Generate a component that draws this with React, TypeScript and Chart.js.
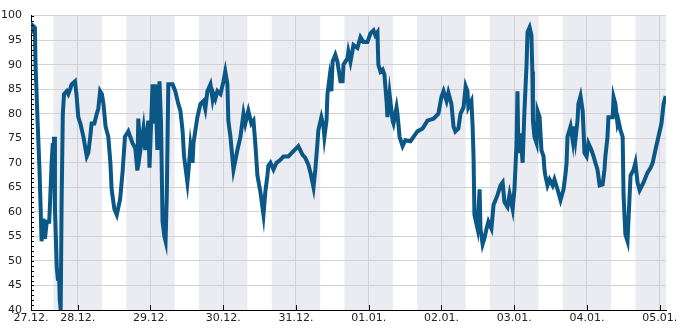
import { useEffect, useRef } from 'react';
import { Chart, registerables } from 'chart.js';

Chart.register(...registerables);

// hours since 27.12. 00:00
const HOURS = [
  8.6, 9.1, 9.9, 10.1, 10.8, 11.4, 12.1, 12.7, 13.2, 13.8, 14.6, 14.9, 15.4, 15.8, 16.1, 16.2, 16.5, 17.1, 17.5, 17.8,
  18.1, 18.4, 18.7, 19.1, 19.5, 20.4, 20.9, 21.5, 22.0, 23.1, 23.6, 24.2, 24.9, 25.9, 27.0, 27.5, 28.1, 28.6, 29.5, 30.3,
  30.8, 31.4, 32.0, 32.5, 33.2, 34.1, 34.8, 35.2, 36.1, 36.9, 38.0, 38.8, 39.6, 40.7, 42.1, 43.0, 43.7, 44.0, 44.7, 45.7,
  46.3, 47.3, 47.7, 48.7, 49.0, 49.6, 50.3, 51.0, 51.5, 52.0, 52.6, 53.0, 53.4, 53.9, 55.3, 56.2, 57.2, 57.9, 58.6, 59.1,
  60.2, 60.5, 61.2, 61.9, 62.2, 63.5, 64.5, 65.5, 66.1, 66.8, 67.8, 68.5, 68.8, 69.4, 70.1, 71.1, 72.1, 72.7, 73.4, 73.7,
  74.4, 75.1, 75.4, 76.7, 77.7, 78.7, 79.3, 80.3, 81.3, 82.0, 82.6, 83.3, 84.3, 85.3, 85.9, 86.6, 86.9, 87.6, 88.6, 89.6,
  90.9, 91.9, 93.5, 95.2, 96.8, 98.2, 99.1, 100.1, 100.8, 101.8, 102.4, 103.1, 103.4, 104.4, 105.1, 105.4, 106.1, 106.4, 107.1, 107.7,
  108.1, 109.0, 109.7, 110.7, 111.4, 111.7, 113.0, 113.3, 114.0, 115.0, 116.3, 117.3, 118.3, 119.6, 120.6, 121.6, 122.2, 122.9, 123.2, 123.9,
  124.6, 125.2, 125.9, 126.2, 126.9, 127.9, 128.2, 129.2, 129.5, 130.2, 131.2, 132.1, 133.8, 134.8, 136.1, 137.8, 139.4, 141.4, 143.0, 144.0,
  144.7, 145.7, 146.3, 147.3, 148.0, 148.6, 149.6, 150.3, 151.3, 152.0, 152.6, 152.9, 153.9, 154.3, 154.6, 154.9, 155.9, 156.6, 156.9, 157.6,
  158.2, 158.9, 159.5, 160.5, 161.2, 162.5, 163.5, 164.2, 164.8, 165.8, 166.5, 167.5, 168.1, 168.8, 169.1, 169.4, 170.1, 170.8, 171.4, 172.1,
  172.4, 173.1, 173.7, 174.0, 174.2, 174.7, 175.4, 175.7, 176.4, 177.0, 177.7, 178.0, 178.3, 179.0, 179.7, 180.7, 181.3, 182.3, 183.3, 184.3,
  185.0, 185.3, 185.6, 186.6, 187.3, 187.6, 188.2, 188.9, 189.2, 189.9, 190.6, 190.9, 191.2, 191.9, 192.5, 193.5, 194.2, 194.8, 195.5, 196.2,
  197.2, 197.8, 198.1, 198.8, 199.1, 200.5, 200.8, 201.4, 202.1, 202.4, 203.1, 203.8, 204.1, 204.7, 205.4, 205.7, 206.4, 207.4, 208.0, 208.7,
  209.4, 210.7, 212.0, 213.0, 213.7, 214.6, 215.6, 216.6, 217.3, 218.0,
];

const VALUES = [
  96.4, 98, 97.5, 90, 78, 68.6, 54, 58.6, 54.5, 58, 58, 62, 70, 74, 70, 75.3, 60.6, 48.7, 46, 48,
  42, 40, 62, 80, 84, 84.6, 84, 85, 86, 86.6, 84, 79.3, 78, 75.3, 71.3, 72, 75, 78, 78, 80,
  81, 84.6, 84, 82, 77.4, 75.3, 70, 64.6, 60.6, 59.4, 62.6, 68, 75.3, 76.4, 74, 73, 68.4, 79, 72.6, 77,
  72.6, 78.6, 69, 86, 78, 86, 72.6, 86.6, 78, 58, 55, 54, 63.4, 86, 86, 84.6, 82, 80.6, 76.6, 71.3,
  66, 68, 73.4, 70, 74, 79.3, 82, 82.6, 81, 84.6, 86, 83, 84, 83, 84.6, 84, 86.6, 88.6, 86, 78.6,
  75.3, 70.6, 68.6, 72.6, 75.3, 80, 78, 80.6, 78, 78.6, 74, 67.4, 64, 59.4, 64, 67.4, 69.4, 70, 68.6, 70,
  70.6, 71.3, 71.3, 72.4, 73.4, 71.6, 71, 69.6, 68, 65, 68.6, 74, 76.6, 79.3, 77.4, 75.3, 78.6, 84, 87.4, 84.6,
  90.6, 92, 90.6, 86.6, 86.6, 90, 91.3, 92.6, 90.6, 94, 93.4, 95.6, 94.6, 94.6, 96.4, 97, 96, 96.6, 90, 88.6,
  89, 88, 82.6, 79.3, 84, 78.6, 78, 81.3, 80, 75.3, 73.4, 74.6, 74.4, 75.3, 76.4, 77, 78.6, 79, 80, 83.4,
  84.6, 82.6, 84.3, 82, 77.4, 76.4, 77, 80, 81.3, 85.6, 84.6, 81.3, 82.6, 77.4, 71.3, 59.4, 56.6, 64.6, 56.6, 53.4,
  54.6, 56.6, 58, 56.6, 61.4, 63.4, 65.4, 66, 62, 61, 63.6, 60.6, 64.6, 74, 84.6, 72, 76, 70, 80.6, 90,
  96.6, 97.6, 96, 88.6, 78.6, 75.3, 74, 80.6, 79.3, 72.6, 71.3, 68.6, 67.4, 65.4, 66.6, 65.4, 66.6, 64.6, 62.4, 64.6,
  68, 70, 75.3, 77.4, 74.6, 77.4, 74.6, 78.6, 82, 83.6, 80.6, 76.6, 72, 71.3, 74, 72.6, 71.3, 70, 68.6, 65.4,
  65.6, 68.6, 71.3, 75.3, 79.3, 79.3, 83.4, 82, 78, 78.6, 76.6, 75.3, 63.4, 55.4, 54, 58, 67.4, 68.6, 70, 66,
  64.4, 66, 68, 69, 70, 72.6, 75.3, 78, 82, 83.6,
];

const X_MIN = 8.6;
const X_MAX = 218.1;
const DAY_TICK_HOURS = [8.6, 24, 48, 72, 96, 120, 144, 168, 192, 216];
const DAY_LABELS = ['27.12.', '28.12.', '29.12.', '30.12.', '31.12.', '01.01.', '02.01.', '03.01.', '04.01.', '05.01.'];
const NIGHT_START_HOURS = [16, 40, 64, 88, 112, 136, 160, 184, 208];
const NIGHT_LENGTH = 16;
const Y_MIN = 40;
const Y_MAX = 100;

const BAND_COLOR = '#ebecf1';
const GRID_COLOR = '#d2d2d6';
const LINE_COLOR = '#0b5786';
const FONT = { family: 'DejaVu Sans', size: 11 };

const decoPlugin = {
  id: 'deco',
  beforeDraw(chart: any) {
    const { ctx, chartArea, scales } = chart;
    const x = scales.x;
    ctx.save();
    ctx.fillStyle = BAND_COLOR;
    for (const s of NIGHT_START_HOURS) {
      const x0 = Math.max(x.getPixelForValue(s), chartArea.left);
      const x1 = Math.min(x.getPixelForValue(s + NIGHT_LENGTH), chartArea.right);
      if (x1 > x0) ctx.fillRect(x0, chartArea.top, x1 - x0, chartArea.bottom - chartArea.top);
    }
    ctx.restore();
  },
  afterDraw(chart: any) {
    const { ctx, chartArea, scales } = chart;
    const x = scales.x;
    const y = scales.y;
    ctx.save();
    ctx.strokeStyle = '#000';
    ctx.lineWidth = 1;
    ctx.beginPath();
    for (let v = Y_MIN + 1; v <= Y_MAX; v += 1) {
      const py = Math.round(y.getPixelForValue(v)) + 0.5;
      ctx.moveTo(chartArea.left, py);
      ctx.lineTo(chartArea.left + 3, py);
    }
    for (const h of DAY_TICK_HOURS.slice(1)) {
      const px = Math.round(x.getPixelForValue(h)) + 0.5;
      ctx.moveTo(px, chartArea.bottom);
      ctx.lineTo(px, chartArea.bottom - 5);
    }
    ctx.stroke();
    ctx.restore();
  },
};

export default function App() {
  const ref = useRef<HTMLCanvasElement | null>(null);
  useEffect(() => {
    if (!ref.current) return;
    const data = HOURS.map((h, i) => ({ x: h, y: VALUES[i] }));
    const chart = new Chart(ref.current, {
      type: 'line',
      data: {
        datasets: [
          {
            data,
            borderColor: LINE_COLOR,
            borderWidth: 4,
            pointRadius: 0,
            tension: 0,
            fill: false,
          },
        ],
      },
      options: {
        responsive: false,
        animation: false,
        layout: { padding: { top: 10, right: 19, left: 0, bottom: 0 } },
        plugins: { legend: { display: false }, tooltip: { enabled: false } },
        scales: {
          x: {
            type: 'linear',
            min: X_MIN,
            max: X_MAX,
            afterBuildTicks(scale: any) {
              scale.ticks = DAY_TICK_HOURS.map((v) => ({ value: v }));
            },
            afterFit(scale: any) {
              scale.height = 20;
            },
            ticks: {
              autoSkip: false,
              maxRotation: 0,
              padding: 2,
              color: '#222',
              font: FONT,
              callback: (_v: any, i: number) => DAY_LABELS[i],
            },
            grid: {
              drawTicks: false,
              color: (c: any) => (c.index === 0 ? 'rgba(0,0,0,0)' : GRID_COLOR),
            },
            border: { display: true, color: '#000', width: 1 },
          },
          y: {
            min: Y_MIN,
            max: Y_MAX,
            afterFit(scale: any) {
              scale.width = 31;
            },
            ticks: { stepSize: 5, padding: 9, color: '#222', font: FONT },
            grid: { drawTicks: false, color: GRID_COLOR },
            border: { display: true, color: '#000', width: 1 },
          },
        },
      },
      plugins: [decoPlugin],
    });
    return () => chart.destroy();
  }, []);
  return (
    <div style={{ position: 'fixed', left: 0, top: 0, width: 685, height: 330, background: '#fff' }}>
      <canvas ref={ref} width={685} height={330} style={{ display: 'block' }} />
    </div>
  );
}
